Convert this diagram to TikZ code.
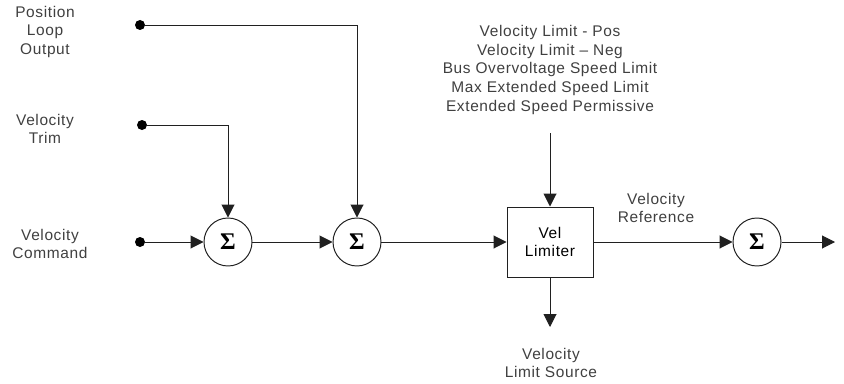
\documentclass[tikz,border=0pt]{standalone}
\usepackage{amsmath}
\usepackage{fontspec}
\setmainfont{Liberation Sans}
\newfontfamily\lblfont[LetterSpace=4]{Liberation Sans}
\newfontfamily\sigfont{Liberation Serif}
\usetikzlibrary{positioning,arrows.meta}
\definecolor{lblgray}{HTML}{404040}
\definecolor{linegray}{HTML}{202020}

\begin{document}
\begin{tikzpicture}[>={Triangle[length=0.32cm,width=0.32cm]},
    every node/.style={font=\lblfont\fontsize{11}{13.2}\selectfont},
    lbl/.style={text=lblgray,align=center,inner sep=0pt},
    sumnode/.style={draw=linegray,circle,minimum size=1.2cm,inner sep=0pt,font=\sigfont\bfseries\fontsize{17}{17}\selectfont},
    limbox/.style={draw=linegray,text=black,minimum width=2.15cm,minimum height=1.75cm,align=center,inner sep=0pt},
    dot/.style={circle,fill=black,minimum size=0.25cm,inner sep=0pt},
    line width=0.7pt, draw=linegray]
        \useasboundingbox (0,0) rectangle (21.1,9.575);
        % inputs
        \node[lbl] (plotxt) at (1.125,8.775) {Position\\Loop\\Output};
        \node[lbl] (vtxt) at (1.125,6.35) {Velocity\\Trim};
        \node[lbl] (vctxt) at (1.25,3.475) {Velocity\\Command};
        \node[dot] (plo) at (3.5,8.95) {};
        \node[dot] (vt) at (3.55,6.45) {};
        \node[dot] (vc) at (3.5,3.525) {};
        % summing chain
        \node[sumnode] (sumA) at (5.7,3.525) {Σ};
        \node[sumnode] (sumB) at (8.925,3.525) {Σ};
        \node[limbox] (lim) at (13.75,3.525) {Vel\\Limiter};
        \node[sumnode] (sumC) at (18.925,3.525) {Σ};
        \coordinate (out) at (20.875,3.525);
        \draw[->] (vc) -- (sumA);
        \draw[->] (vt) -| (sumA);
        \draw[->] (plo) -| (sumB);
        \draw[->] (sumA) -- (sumB);
        \draw[->] (sumB) -- (lim);
        \draw[->] (lim) -- (sumC);
        \draw[->] (sumC) -- (out);
        % limits in and source out
        \node[lbl] (limits) at (13.75,7.825) {Velocity Limit - Pos\\Velocity Limit – Neg\\Bus Overvoltage Speed Limit\\Max Extended Speed Limit\\Extended Speed Permissive};
        \coordinate (limin) at (13.75,6.25);
        \draw[->] (limin) -- (lim);
        \node[lbl] (src) at (13.775,0.5) {Velocity\\Limit Source};
        \coordinate (limout) at (13.75,1.4);
        \draw[->] (lim) -- (limout);
        \node[lbl] (vref) at (16.4,4.375) {Velocity\\Reference};
      \end{tikzpicture}
\end{document}
